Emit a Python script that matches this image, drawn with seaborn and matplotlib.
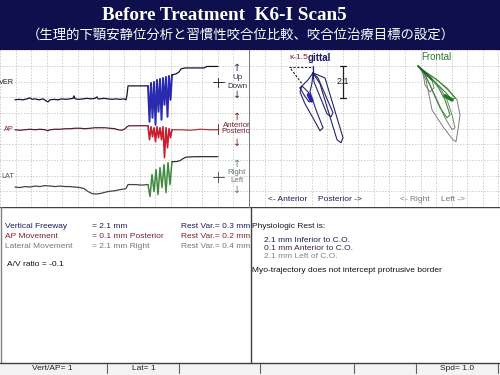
import numpy as np
import pandas as pd
import matplotlib
matplotlib.use("Agg")
import matplotlib.pyplot as plt
import seaborn as sns
from matplotlib.patches import Rectangle

sns.set_theme(style="white")
plt.rcParams['font.family'] = ['Liberation Sans', 'DejaVu Sans']

# ---------------- data (panel units) ----------------
# time-series panel: x = time (panel units), y = position (panel units, down = +)
ver_base_t = [15, 19, 23, 27, 30, 32, 35, 39, 43, 46, 48, 50, 54, 58, 62, 66, 70, 73, 74, 75,
              79, 83, 87, 91, 95, 97, 98, 100, 104, 108, 112, 116, 120, 124, 126, 127, 128, 135, 142, 148]
ver_base_y = [50, 49.5, 50, 49, 48, 49.5, 49, 50, 49, 51, 52, 50, 49.5, 50, 49, 49.5, 49, 48.5, 46, 49,
              49.5, 49, 48.5, 49, 48.5, 47, 49, 49, 48.5, 49, 49.5, 49, 49.5, 49, 50, 45, 36, 36, 36, 36]
spike_t = [148, 149.5, 151, 152.5, 154, 155.5, 157, 158.5, 160, 161.5, 163, 164.5, 166, 167.5, 169, 170.5, 172]
ver_spike_y = [36, 72, 33, 68, 32, 75, 30, 62, 29, 70, 28, 55, 27, 67, 26, 50, 25]
ver_post_t = [172, 176, 179, 181, 185, 195, 204, 207, 218]
ver_post_y = [25, 24, 22, 19, 18, 18, 18, 16.5, 16.5]

ap_base_t = [15, 20, 25, 30, 35, 40, 45, 48, 50, 55, 60, 65, 70, 75, 80, 85, 90, 95, 100, 105,
             110, 115, 118, 122, 125, 127, 129, 135, 142, 148]
ap_base_y = [80, 80.5, 80, 79.5, 80, 79.5, 80, 81, 80, 79.5, 79.5, 79, 79, 78.5, 78.5, 79, 78.5, 78, 78, 78,
             78.5, 79, 80, 80.5, 79, 77, 76, 76, 76, 76]
ap_spike_y = [76, 90, 77, 87, 78, 92, 77, 88, 78, 90, 77, 108, 78, 98, 79, 88, 80]
ap_post_t = [172, 180, 190, 200, 210, 218]
ap_post_y = [80, 80, 80.5, 79.5, 80, 80]

lat_base_t = [15, 20, 25, 30, 35, 40, 45, 50, 55, 60, 65, 70, 75, 80, 84, 88, 92, 96, 100, 104,
              108, 112, 116, 120, 124, 126, 128, 135, 142, 148]
lat_base_y = [137.5, 138, 137, 137.5, 136.5, 137, 136, 136.5, 137, 136.5, 137, 137, 137.5, 138, 139, 142,
              144, 144.5, 144, 143, 142, 141.5, 141, 140, 139.5, 139, 135, 135, 135.5, 135]
lat_spike_t = [148, 150, 152, 154, 156, 158, 160, 162, 164, 166, 168, 170, 172]
lat_spike_y = [135, 147, 125, 142, 120, 145, 118, 138, 115, 143, 113, 135, 112]
lat_post_t = [172, 176, 180, 183, 186, 195, 205, 218]
lat_post_y = [112, 112, 111, 109, 107.5, 107, 107, 107]

# sagittal trajectories (panel units)
sag_A_x = [63, 75, 93, 91, 87, 70, 63]
sag_A_y = [23, 28, 88, 93, 90, 34, 23]
sag_B_x = [63, 68, 83, 81, 77, 64, 63]
sag_B_y = [23, 28, 63, 67, 64, 32, 23]
sag_C_x = [63, 58, 52, 50, 55, 64, 70, 73, 66, 60, 62, 63]
sag_C_y = [23, 30, 36, 42, 54, 70, 81, 78, 60, 42, 33, 23]
sag_D_x = [50, 54, 59, 63, 58, 52, 50]
sag_D_y = [38, 45, 52, 50, 42, 36, 38]
sag_stem_x = [63, 63]
sag_stem_y = [16, 25]
sag_blob_x = [58.5, 61.5]
sag_blob_y = [45, 51]
sag_ref_h_x = [39, 63]
sag_ref_h_y = [17, 17]
sag_ref_d_x = [41, 52]
sag_ref_d_y = [19, 34]
freeway_x = [93, 93]
freeway_y = [16, 48]

# frontal trajectories (panel units)
fr_1_x = [170, 176, 178, 182, 193, 203, 206, 208, 210, 207, 197, 183, 170]
fr_1_y = [18, 30, 40, 60, 77, 90, 92, 80, 65, 50, 38, 27, 18]
fr_2_x = [172, 180, 187, 195, 202, 205, 202, 197, 190, 180, 172]
fr_2_y = [20, 35, 50, 68, 80, 78, 65, 50, 38, 27, 20]
fr_3_x = [170, 185, 195, 202, 205, 198, 187, 175, 170]
fr_3_y = [18, 32, 42, 50, 48, 40, 30, 22, 18]
fr_4_x = [174, 182, 190, 197, 200, 195, 188, 180, 174]
fr_4_y = [22, 40, 58, 68, 65, 50, 37, 27, 22]
fr_5_x = [173, 175, 180, 184, 182, 177, 173]
fr_5_y = [23, 35, 42, 38, 30, 24, 23]
fr_stem_x = [168, 182]
fr_stem_y = [16, 30]
fr_blob_x = [195, 202]
fr_blob_y = [46, 50]

# texts
title = "Before Treatment  K6-I Scan5"
subtitle = "（生理的下顎安静位分析と習慣性咬合位比較、咬合位治療目標の設定）"
rows_label = ["Vertical Freeway", "AP Movement", "Lateral Movement"]
rows_value = ["= 2.1 mm", "= 0.1 mm Posterior", "= 2.1 mm Right"]
rows_var = ["Rest Var.= 0.3 mm", "Rest Var.= 0.2 mm", "Rest Var.= 0.4 mm"]
rest_lines = ["2.1 mm Inferior to C.O.", "0.1 mm Anterior to C.O.", "2.1 mm Left of C.O."]
status_labels = ["Vert/AP= 1", "Lat= 1", "Spd= 1.0"]

NAVY = "#1c1c60"
RED = "#7e2232"
GRN = "#6d7d6d"
FS = 6

# ---------------- figure ----------------
fig = plt.figure(figsize=(5, 3.75), dpi=100)
fig.patch.set_facecolor("white")


def px_axes(x0, y0, x1, y1):
    return fig.add_axes([x0 / 500, 1 - y1 / 375, (x1 - x0) / 500, (y1 - y0) / 375])


bg = px_axes(0, 0, 500, 375)
bg.set_xlim(0, 500)
bg.set_ylim(375, 0)
bg.axis("off")
bg.add_patch(Rectangle((0, 0), 500, 50, color="#0e0f4c", zorder=0))
bg.text(224, 15, title, ha="center", va="center", color="white",
        family=["Liberation Serif", "DejaVu Serif"], weight="bold", fontsize=13.8)
bg.text(241, 35, subtitle, ha="center", va="center", color="white",
        family=["Noto Sans CJK JP", "DejaVu Sans"], fontsize=9.6)

# frames
bg.plot([0, 500], [207, 207], color="#404040", lw=1)
bg.plot([249, 249], [50, 207], color="#7a7a7a", lw=1)
bg.plot([250.5, 250.5], [207, 363], color="#404040", lw=1)
bg.plot([1, 1], [207, 363], color="#808080", lw=1)
bg.plot([0, 500], [363, 363], color="#404040", lw=1)
bg.add_patch(Rectangle((0, 363.5), 500, 11.5, color="#f3f3f3", zorder=0))
for sx in [107, 179, 260, 354, 416, 498]:
    bg.plot([sx, sx], [364, 373], color="#606060", lw=0.8)
for cx, lab in zip([52, 144, 457], status_labels):
    bg.text(cx, 368.5, lab, ha="center", va="center", fontsize=FS, color="#202020")


def draw(ax, xs, ys, color, lw=0.8, ls="-"):
    df = pd.DataFrame({"x": xs, "y": ys})
    sns.lineplot(data=df, x="x", y="y", ax=ax, color=color, linewidth=lw,
                 linestyle=ls, sort=False, estimator=None)


def grid_axes(ax, xt, yt):
    ax.set_facecolor("white")
    ax.set_xticks(xt)
    ax.set_yticks(yt)
    ax.grid(True, color="#9c9c9c", linestyle=(0, (1, 2.6)), linewidth=0.6)
    ax.set_axisbelow(True)
    ax.tick_params(length=0, labelbottom=False, labelleft=False)
    for s in ax.spines.values():
        s.set_visible(False)


# ---------------- time-series panel ----------------
axL = px_axes(0, 50, 249, 207)
draw(axL, ver_base_t, ver_base_y, "#141430", 0.9)
draw(axL, spike_t, ver_spike_y, "#2a2ab0", 1.4)
draw(axL, ver_post_t, ver_post_y, "#141430", 0.9)
draw(axL, ap_base_t, ap_base_y, "#5a1a28", 0.9)
draw(axL, spike_t, ap_spike_y, "#c8202e", 1.2)
draw(axL, ap_post_t, ap_post_y, "#c03038", 0.9)
draw(axL, lat_base_t, lat_base_y, "#3c4a3c", 0.9)
draw(axL, lat_spike_t, lat_spike_y, "#3f8a3f", 1.1)
draw(axL, lat_post_t, lat_post_y, "#2c342c", 0.9)
axL.set_xlim(0, 249)
axL.set_ylim(157, 0)
grid_axes(axL, np.arange(0, 250, 15.55), np.arange(0.5, 158, 15.7))
axL.set_xlabel("")
axL.set_ylabel("")

for yy, lab, col in [(33, "VER", "#202020"), (80, "AP", RED), (127, "LAT", "#505850")]:
    axL.text(14, yy, lab, ha="right", va="center", fontsize=FS - 0.8, color=col)
# scale markers
axL.plot([213, 224], [32, 32], color="#303030", lw=0.7)
axL.plot([218.5, 218.5], [28, 37], color="#303030", lw=0.7)
axL.plot([218.5, 218.5], [74, 84], color=RED, lw=0.7)
axL.plot([213, 224], [127, 127], color="#505850", lw=0.7)
axL.plot([218.5, 218.5], [122, 132], color="#505850", lw=0.7)
for labs, ys, col in [(["↑", "Up", "Down", "↓"], [18, 28, 37, 45], "#303050"),
                      (["↑", "Anterior", "Posterior", "↓"], [67, 76, 82, 93], RED),
                      (["↑", "Right", "Left", "↓"], [114, 123, 131, 140], GRN)]:
    for lab, yy in zip(labs, ys):
        fs = 7 if lab in ("↑", "↓") else FS - 0.3
        axL.text(237, yy, lab, ha="center", va="center", fontsize=fs,
                 color=col, clip_on=True, family=["DejaVu Sans"] if fs == 7 else None)

# ---------------- sagittal / frontal panel ----------------
axR = px_axes(250, 50, 500, 207)
for xs, ys in [(sag_A_x, sag_A_y), (sag_B_x, sag_B_y), (sag_C_x, sag_C_y), (sag_D_x, sag_D_y)]:
    draw(axR, xs, ys, "#24246e", 0.8)
draw(axR, sag_stem_x, sag_stem_y, "#24246e", 0.9)
draw(axR, sag_blob_x, sag_blob_y, "#2424b0", 2.6)
draw(axR, sag_ref_h_x, sag_ref_h_y, "#202020", 0.8, (0, (2, 1.5)))
draw(axR, sag_ref_d_x, sag_ref_d_y, "#202020", 0.8, (0, (2, 1.5)))
draw(axR, freeway_x, freeway_y, "#202020", 0.9)
axR.plot([90, 96], [16, 16], color="#202020", lw=0.9)
axR.plot([90, 96], [48, 48], color="#202020", lw=0.9)

for xs, ys in [(fr_1_x, fr_1_y), (fr_2_x, fr_2_y), (fr_5_x, fr_5_y)]:
    draw(axR, xs, ys, "#7a7f7a", 0.7)
for xs, ys in [(fr_3_x, fr_3_y), (fr_4_x, fr_4_y)]:
    draw(axR, xs, ys, "#3d8a3d", 0.8)
draw(axR, fr_stem_x, fr_stem_y, "#1f5f1f", 1.4)
draw(axR, fr_blob_x, fr_blob_y, "#1f7a1f", 2.6)
axR.set_xlim(0, 250)
axR.set_ylim(157, 0)
grid_axes(axR, np.arange(15, 250, 15.55), np.arange(0.5, 158, 15.7))
axR.set_xlabel("")
axR.set_ylabel("")

axR.text(58, 8, "κ-1.5", ha="right", va="center", fontsize=FS, color=RED)
axR.text(58, 8, "gittal", ha="left", va="center", fontsize=7, color=NAVY, weight="bold")
axR.text(93, 32, "2.1", ha="center", va="center", fontsize=FS + 0.5, color="#202020")
axR.text(186, 7, "Frontal", ha="center", va="center", fontsize=7, color="#2f7a2f")
axR.text(18, 150, "<- Anterior", ha="left", va="center", fontsize=FS, color=NAVY)
axR.text(68, 150, "Posterior ->", ha="left", va="center", fontsize=FS, color=NAVY)
axR.text(150, 150, "<- Right", ha="left", va="center", fontsize=FS, color=GRN)
axR.text(191, 150, "Left ->", ha="left", va="center", fontsize=FS, color=GRN)

# ---------------- bottom text panels ----------------
axBL = px_axes(2, 208, 250, 362)
axBL.set_xlim(2, 250)
axBL.set_ylim(154, 0)
axBL.axis("off")
for i, col in enumerate([NAVY, RED, GRN]):
    yy = 19 + i * 9.5
    axBL.text(5, yy, rows_label[i], va="center", fontsize=FS, color=col, clip_on=True)
    axBL.text(92, yy, rows_value[i], va="center", fontsize=FS, color=col, clip_on=True)
    axBL.text(181, yy, rows_var[i], va="center", fontsize=FS, color=col, clip_on=True)
axBL.text(7, 56, "A/V ratio = -0.1", va="center", fontsize=FS, color="#101010", clip_on=True)

axBR = px_axes(251, 208, 500, 362)
axBR.set_xlim(0, 249)
axBR.set_ylim(154, 0)
axBR.axis("off")
axBR.text(1, 19, "Physiologic Rest is:", va="center", fontsize=FS, color="#181818")
for yy, lab, col in zip([32, 40, 49], rest_lines, [NAVY, "#3a2446", "#7d8a7d"]):
    axBR.text(13, yy, lab, va="center", fontsize=FS, color=col)
axBR.text(1, 62, "Myo-trajectory does not intercept protrusive border", va="center",
          fontsize=FS, color="#101010")

fig.savefig("out.png", dpi=100)
